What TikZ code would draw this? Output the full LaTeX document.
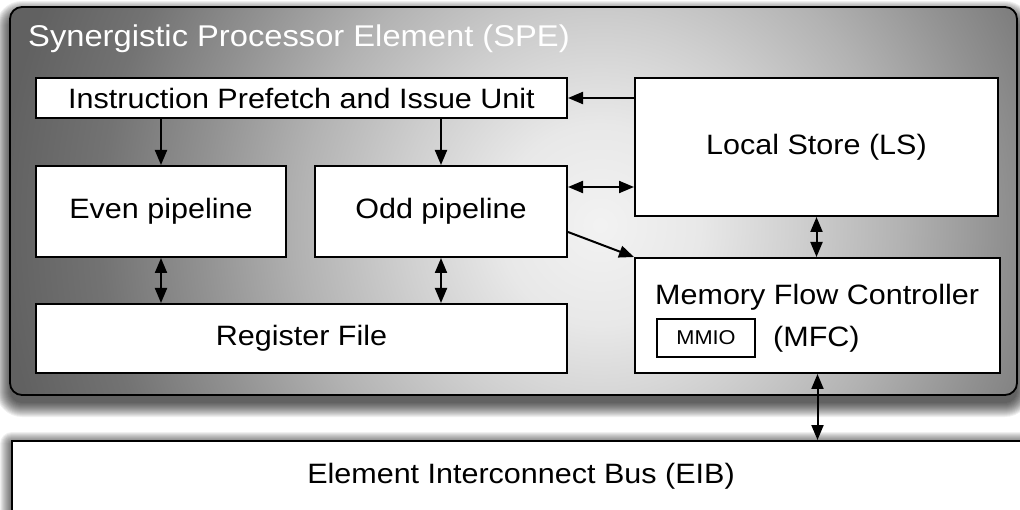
\documentclass[tikz,border=0pt]{standalone}
\usepackage{fontspec}
\setmainfont[FakeStretch=1.09]{Liberation Sans}
\usetikzlibrary{arrows.meta,calc}
\definecolor{g0}{gray}{0.95}
\definecolor{g1}{gray}{0.91}
\definecolor{g2}{gray}{0.81}
\definecolor{g3}{gray}{0.70}
\definecolor{g4}{gray}{0.57}
\definecolor{g5}{gray}{0.45}
\definecolor{g6}{gray}{0.38}
\definecolor{g7}{gray}{0.35}
\pgfdeclareradialshading{speshade}{\pgfpoint{0bp}{0bp}}{color(0bp)=(g0); color(2.5bp)=(g1); color(5bp)=(g2); color(7.5bp)=(g3); color(10bp)=(g4); color(12.5bp)=(g5); color(15bp)=(g6); color(50bp)=(g7)}
\newcommand\lblfont{\fontsize{28}{34}\selectfont}
\tikzset{
  box/.style={draw, line width=2pt, fill=white, inner sep=0pt, font=\lblfont},
  arr/.style={line width=2pt, -{Triangle[length=15pt,width=12pt]}},
  darr/.style={line width=2pt, {Triangle[length=15pt,width=12pt]}-{Triangle[length=15pt,width=12pt]}},
  shadowlayer/.style={fill=black, fill opacity=0.06, draw=none},
}
\begin{document}
\begin{tikzpicture}[x=1pt,y=-1pt]
\useasboundingbox (0,0) rectangle (1020,510);
\fill[white] (0,0) rectangle (1020,510);
% shadow of SPE
\foreach \i in {0,1,...,14}{
  \pgfmathsetmacro\r{12+\i}
  \fill[shadowlayer, rounded corners=\r pt] (10-\i,15-\i) rectangle (1017+\i,403+\i);
}
% shadow of EIB
\foreach \i in {0,1,...,12}{
  \fill[shadowlayer, rounded corners=\i pt] (12-\i,444-\i) rectangle (1030+\i,514+\i);
}
% SPE container
\begin{scope}
  \clip[rounded corners=12pt] (10,7) rectangle (1017,395);
  \shade[shading=speshade] (600,225) circle [radius=1000];
\end{scope}
\node[draw, line width=1.8pt, rounded corners=12pt, minimum width=1007pt, minimum height=388pt, inner sep=0pt] (spe) at (513.5,201) {};
\node[anchor=base west, inner sep=0pt, text=white, font=\fontsize{30}{36}\selectfont] (title) at (28,47) {Synergistic Processor Element (SPE)};

% boxes
\node[box, minimum width=531pt, minimum height=40pt] (ipiu) at (301.5,98) {Instruction Prefetch and Issue Unit};
\node[box, minimum width=363pt, minimum height=138pt] (ls) at (816.5,147) {Local Store (LS)};
\node[box, minimum width=250pt, minimum height=91pt] (even) at (161,211.5) {Even pipeline};
\node[box, minimum width=252pt, minimum height=91pt] (odd) at (441,211.5) {Odd pipeline};
\node[box, minimum width=531pt, minimum height=69pt] (reg) at (301.5,338.5) {Register File};
\node[box, minimum width=365pt, minimum height=115pt] (mfc) at (817.5,315.5) {};
\node[anchor=base west, inner sep=0pt, font=\lblfont] (mfcname) at (655,305) {Memory Flow Controller};
\node[anchor=base west, inner sep=0pt, font=\lblfont] (mfcabbr) at (773,347) {(MFC)};
\node[box, line width=1.6pt, minimum width=98pt, minimum height=38pt, font=\fontsize{20}{24}\selectfont] (mmio) at (706,338) {MMIO};
\node[box, minimum width=1018pt, minimum height=70pt] (eib) at (521,476) {Element Interconnect Bus (EIB)};

% connectors
\draw[arr] (ls.west |- ipiu.east) -- (ipiu.east);
\draw[arr] (ipiu.south -| even.north) -- (even.north);
\draw[arr] (ipiu.south -| odd.north) -- (odd.north);
\draw[darr] ([yshift=24.5pt]odd.east) -- ([yshift=24.5pt]odd.east -| ls.west);
\draw[arr] ([yshift=-20.5pt]odd.east) -- (mfc.north west);
\draw[darr] (even.south) -- (even.south |- reg.north);
\draw[darr] (odd.south) -- (odd.south |- reg.north);
\draw[darr] (ls.south) -- (ls.south |- mfc.north);
\draw[darr] (mfc.south) -- (mfc.south |- eib.north);
\end{tikzpicture}
\end{document}
